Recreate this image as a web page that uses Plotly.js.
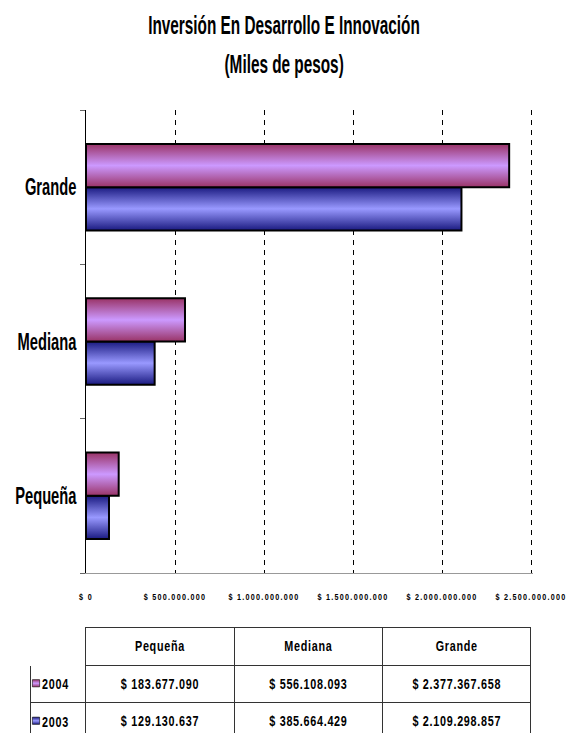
<!DOCTYPE html>
<html>
<head>
<meta charset="utf-8">
<script src="https://cdn.plot.ly/plotly-3.0.1.min.js"></script>
<style>
  html, body { margin: 0; padding: 0; background: #ffffff; }
  #chart { width: 568px; height: 733px; }
  .xtick text { letter-spacing: 1.6px; }
  .table .cell-text { letter-spacing: 1px; }
  .legendtext { letter-spacing: 1px; }
</style>
</head>
<body>
<div id="chart"></div>
<script>
// Investment in development and innovation, by company size (thousands of pesos)
const categories = ['Pequeña', 'Mediana', 'Grande'];
const years = ['2004', '2003'];
const values2004 = [183677090, 556108093, 2377367658];
const values2003 = [129130637, 385664429, 2109298857];
const tickValues = [0, 500000000, 1000000000, 1500000000, 2000000000, 2500000000];
const tickLabels = ['$ 0', '$ 500.000.000', '$ 1.000.000.000', '$ 1.500.000.000', '$ 2.000.000.000', '$ 2.500.000.000'];

const ARIAL = '"Liberation Sans", Arial, sans-serif';

// gradient colours: edge colour and centre colour of each series
const palette = {
  '2004': { edge: '#993366', mid: '#CC99FF' },
  '2003': { edge: '#1a1a80', mid: '#9999FF' }
};

function money(v) {
  return '$ ' + String(v).replace(/\B(?=(\d{3})+(?!\d))/g, '.');
}

function barTrace(name, values, rank) {
  return {
    type: 'bar',
    orientation: 'h',
    name: name,
    legendgroup: name,
    legendrank: rank,
    x: values,
    y: categories,
    marker: { color: palette[name].mid, line: { color: '#000000', width: 2 } },
    hoverinfo: 'skip'
  };
}

const rows = [values2004, values2003];
const tableFont = { family: ARIAL, size: 15, color: '#000000', weight: 'bold' };
const tableTrace = {
  type: 'table',
  domain: { x: [30 / 568, 532 / 568], y: [0, (733 - 627) / 733] },
  columnwidth: [56, 149, 149, 149],
  header: {
    values: [''].concat(categories),
    height: 38,
    align: 'center',
    line: { color: ['#ffffff', '#333333', '#333333', '#333333'], width: 1 },
    fill: { color: '#ffffff' },
    font: tableFont
  },
  cells: {
    values: [years.map(() => '')].concat(categories.map((c, i) => rows.map(r => money(r[i])))),
    height: 37,
    align: 'center',
    line: { color: '#333333', width: 1 },
    fill: { color: '#ffffff' },
    font: tableFont
  }
};

const data = [barTrace('2003', values2003, 2), barTrace('2004', values2004, 1), tableTrace];

// value axis runs a little past 2.5 billion so the last dashed line is kept
const xMax = 2510000000;
const xLeft = 86, xAt25 = 531;
const xRight = xLeft + (xAt25 - xLeft) * xMax / 2500000000;

const layout = {
  width: 568,
  height: 733,
  margin: { l: 0, r: 0, t: 0, b: 0, autoexpand: false },
  paper_bgcolor: '#ffffff',
  plot_bgcolor: '#ffffff',
  showlegend: true,
  legend: {
    x: 16 / 568, xanchor: 'left',
    y: (733 - 667) / 733, yanchor: 'top',
    traceorder: 'grouped',
    tracegroupgap: 15,
    bgcolor: 'rgba(0,0,0,0)',
    borderwidth: 0,
    font: { family: ARIAL, size: 15, color: '#000000', weight: 'bold' }
  },
  barmode: 'group',
  bargap: 0.44,
  bargroupgap: 0,
  title: {
    text: 'Inversión En Desarrollo E Innovación',
    font: { family: ARIAL, size: 26, color: '#000000', weight: 'bold' },
    x: 0.5, xanchor: 'center',
    xref: 'paper',
    y: 1 - 25 / 733, yref: 'container', yanchor: 'middle'
  },
  annotations: [{
    text: '(Miles de pesos)',
    xref: 'paper', yref: 'paper',
    x: 0.5, y: 1 - 64 / 733,
    xanchor: 'center', yanchor: 'middle',
    showarrow: false,
    font: { family: ARIAL, size: 26, color: '#000000', weight: 'bold' }
  }],
  xaxis: {
    domain: [xLeft / 568, xRight / 568],
    range: [0, xMax],
    tickvals: tickValues,
    ticktext: tickLabels,
    tickangle: 0,
    ticklabeloverflow: 'allow',
    tickfont: { family: ARIAL, size: 9, color: '#000000', weight: 'bold' },
    ticks: '',
    ticklabelstandoff: 15,
    showgrid: true,
    gridcolor: '#000000',
    gridwidth: 1,
    griddash: '5px,5px',
    zeroline: false,
    showline: true,
    linecolor: '#999999',
    linewidth: 1,
    fixedrange: true
  },
  yaxis: {
    domain: [(733 - 573) / 733, (733 - 110) / 733],
    type: 'category',
    categoryorder: 'array',
    categoryarray: categories,
    tickfont: { family: ARIAL, size: 23, color: '#000000', weight: 'bold' },
    ticks: 'outside',
    tickson: 'boundaries',
    ticklen: 5,
    tickcolor: '#666666',
    ticklabelstandoff: 4,
    showgrid: false,
    zeroline: false,
    showline: true,
    linecolor: '#000000',
    linewidth: 1,
    fixedrange: true
  }
};

const NS = 'http://www.w3.org/2000/svg';

// narrow the lettering horizontally around an anchor point
function squeeze(el, factor, anchor, dy) {
  const bb = el.getBBox();
  let cx = bb.x;
  if (anchor === 'middle') cx = bb.x + bb.width / 2;
  else if (anchor === 'end') cx = bb.x + bb.width;
  const t = el.getAttribute('transform') || '';
  el.setAttribute('transform',
    t + ' translate(' + cx + ',' + (dy || 0) + ') scale(' + factor + ',1) translate(' + (-cx) + ',0)');
}

function gradient(defs, name) {
  const id = 'shade' + name;
  if (document.getElementById(id)) return id;
  const grad = document.createElementNS(NS, 'linearGradient');
  grad.setAttribute('id', id);
  grad.setAttribute('x1', '0'); grad.setAttribute('y1', '0');
  grad.setAttribute('x2', '0'); grad.setAttribute('y2', '1');
  [[0, palette[name].edge], [0.5, palette[name].mid], [1, palette[name].edge]].forEach(([o, c]) => {
    const s = document.createElementNS(NS, 'stop');
    s.setAttribute('offset', o);
    s.setAttribute('stop-color', c);
    grad.appendChild(s);
  });
  defs.appendChild(grad);
  return id;
}

function finish(gd) {
  const svg = gd.querySelector('svg.main-svg');
  let defs = svg.querySelector('defs');
  if (!defs) { defs = document.createElementNS(NS, 'defs'); svg.insertBefore(defs, svg.firstChild); }

  // shaded bar fills
  gd.querySelectorAll('g.barlayer g.trace.bars').forEach((g, i) => {
    const id = gradient(defs, data[i].name);
    g.querySelectorAll('path').forEach(p => { p.style.fill = 'url(#' + id + ')'; });
  });

  // small shaded keys in the first table column
  gd.querySelectorAll('g.legend g.traces').forEach(g => {
    const lt = g.querySelector('.legendtext');
    const id = gradient(defs, lt.textContent);
    g.querySelectorAll('.legendpoints path').forEach(p => {
      p.style.fill = 'url(#' + id + ')';
      p.style.strokeWidth = '1px';
      p.setAttribute('transform', (p.getAttribute('transform') || '') + ' scale(0.6)');
    });
    squeeze(lt, 0.72, 'start');
    lt.setAttribute('transform', 'translate(-14,0) ' + lt.getAttribute('transform'));
  });

  gd.querySelectorAll('.gtitle').forEach(el => squeeze(el, 0.59, 'middle'));
  gd.querySelectorAll('.annotation-text').forEach(el => squeeze(el, 0.59, 'middle'));
  gd.querySelectorAll('.ytick text').forEach(el => squeeze(el, 0.64, 'end'));
  gd.querySelectorAll('.xtick text').forEach(el => squeeze(el, 0.8, 'middle'));
  gd.querySelectorAll('.table .cell-text').forEach(el => squeeze(el, 0.72, 'middle', 5));
}

Plotly.newPlot('chart', data, layout, { displayModeBar: false, staticPlot: true }).then(finish);
</script>
</body>
</html>
